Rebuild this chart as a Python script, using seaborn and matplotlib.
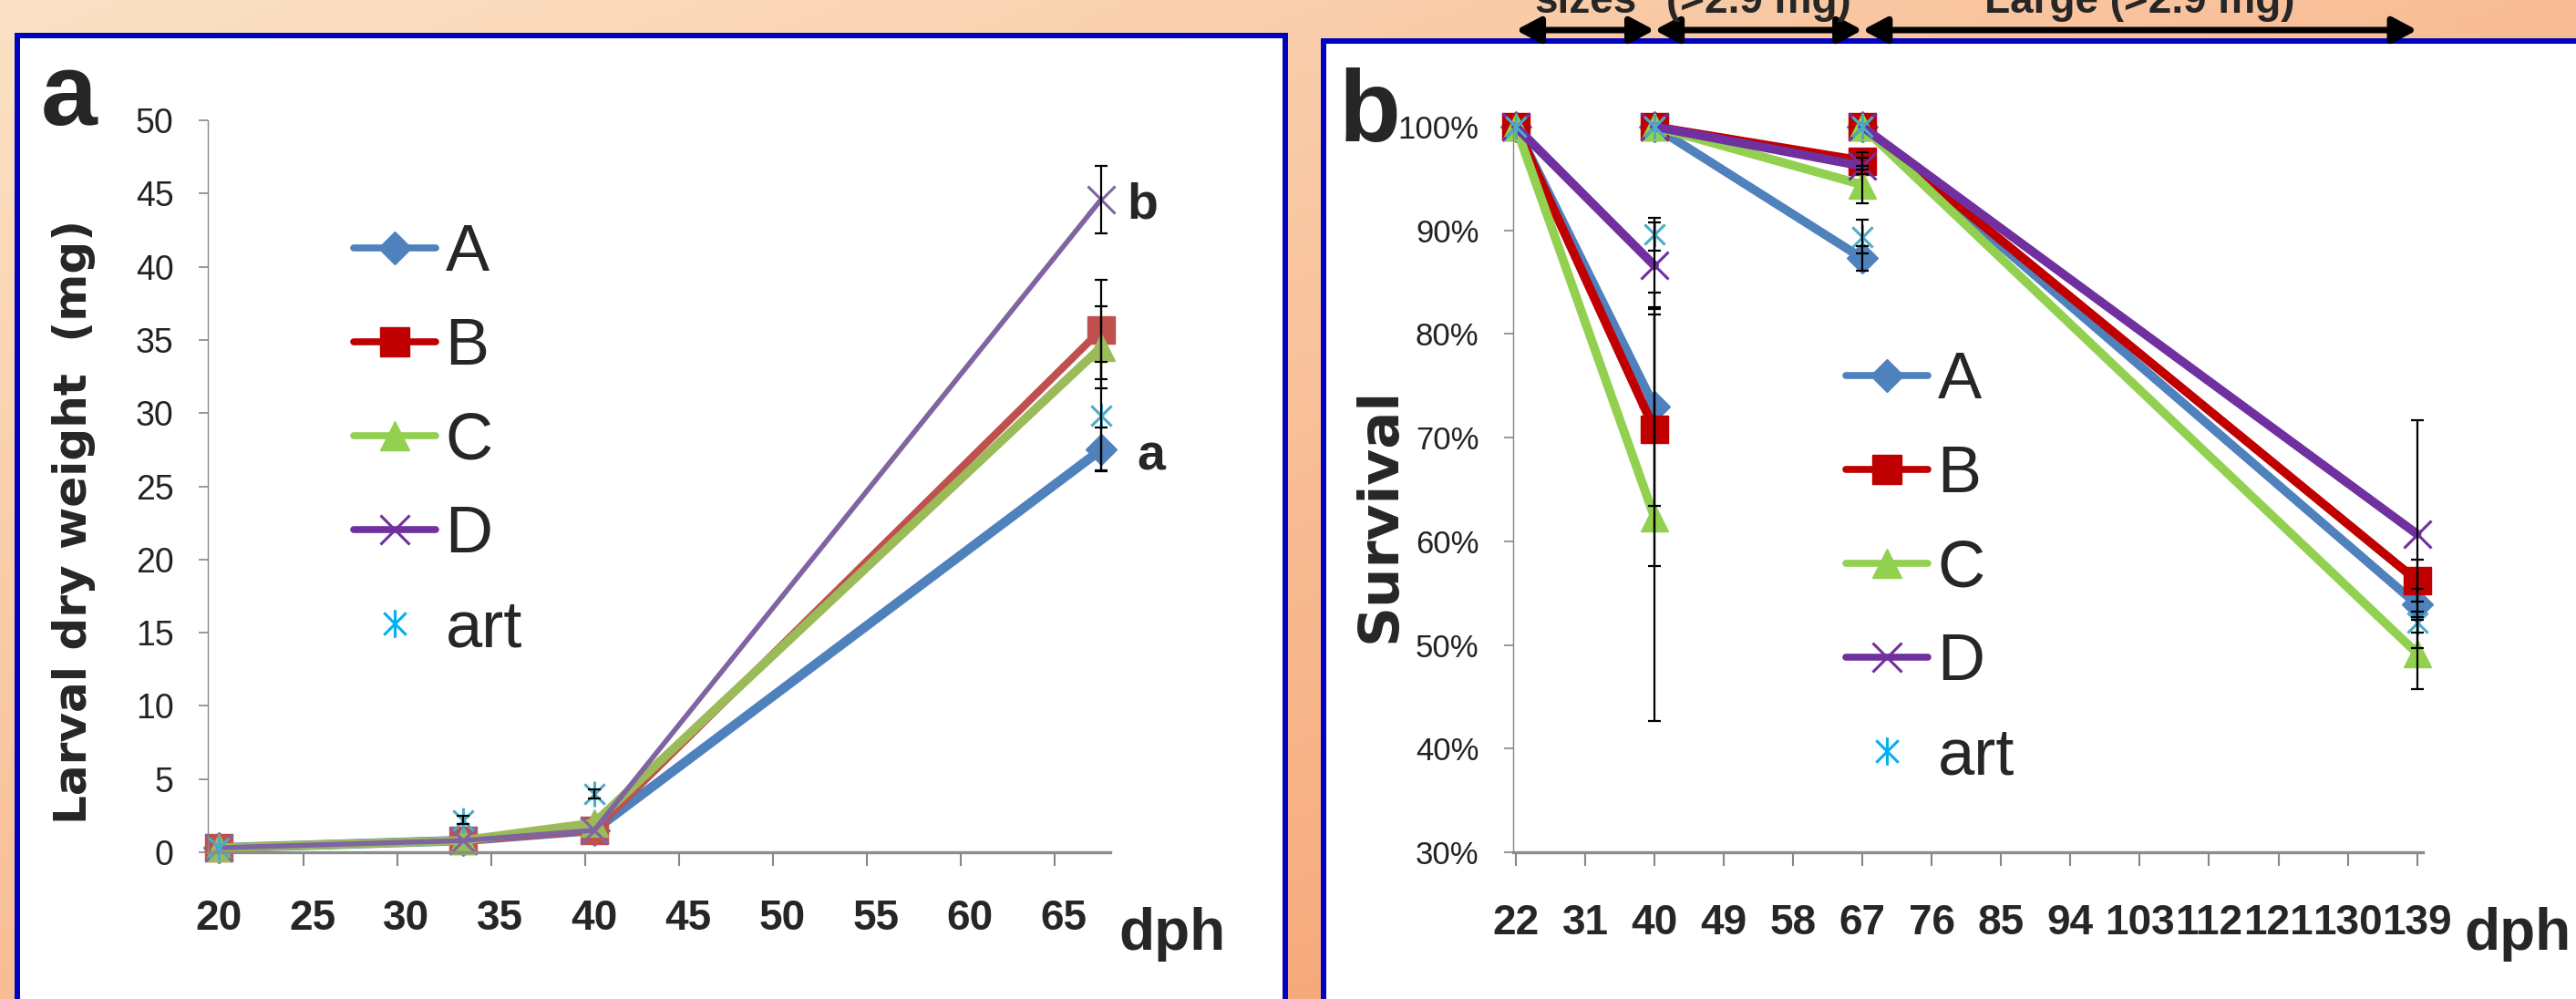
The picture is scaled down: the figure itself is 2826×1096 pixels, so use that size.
import matplotlib
matplotlib.use("Agg")
import matplotlib.pyplot as plt
import matplotlib.transforms as mtransforms
from matplotlib.lines import Line2D
from matplotlib.patches import Rectangle
from matplotlib.path import Path
import numpy as np
import pandas as pd
import seaborn as sns

# ---------------- data ----------------
groups = ["A", "B", "C", "D", "art"]

# panel a: larval dry weight (mg)
dph_a = [20, 33, 40, 67]
weight_A = [0.3, 0.8, 1.5, 27.5]
weight_B = [0.3, 0.8, 1.5, 35.7]
weight_C = [0.3, 0.8, 2.0, 34.5]
weight_D = [0.3, 0.8, 1.5, 44.6]
weight_art = [0.3, 2.2, 4.0, 29.8]
werr_A = [0, 0, 0, 1.5]
werr_B = [0, 0, 0, 3.4]
werr_C = [0, 0, 0, 2.8]
werr_D = [0, 0, 0, 2.3]
werr_art = [0, 0.3, 0.3, 3.7]
xticks_a = [20, 25, 30, 35, 40, 45, 50, 55, 60, 65]
yticks_a = [0, 5, 10, 15, 20, 25, 30, 35, 40, 45, 50]

# panel b: survival (%), each stage restarts at 100 %
dph_b = [22, 40, 40, 67, 67, 139]
stage_b = [1, 1, 2, 2, 3, 3]
surv_A = [100, 73.0, 100, 87.3, 100, 53.9]
surv_B = [100, 70.8, 100, 96.7, 100, 56.2]
surv_C = [100, 62.3, 100, 94.4, 100, 49.2]
surv_D = [100, 86.6, 100, 96.2, 100, 60.7]
surv_art = [100, 89.6, 100, 89.4, 100, 52.2]
serr_A = [0, 9.6, 0, 1.2, 0, 1.5]
serr_B = [0, 13.2, 0, 0.8, 0, 2.0]
serr_C = [0, 19.6, 0, 1.8, 0, 3.5]
serr_D = [0, 4.2, 0, 0.8, 0, 11.0]
serr_art = [0, 1.6, 0, 1.6, 0, 1.0]
xticks_b = [22, 31, 40, 49, 58, 67, 76, 85, 94, 103, 112, 121, 130, 139]
yticks_b = [30, 40, 50, 60, 70, 80, 90, 100]

stage_arrows = [(22, 40), (40, 67), (67, 139)]
stage_texts = ["sizes", "(>2.9 mg)", "Large (>2.9 mg)"]

# ---------------- style ----------------
W, H = 2826, 1096
REG = ["Liberation Sans", "DejaVu Sans"]
BOLDY = ["DejaVu Sans"]

STAR = Path([(0, -1), (0, 1), (-0.8, -0.8), (0.8, 0.8), (-0.8, 0.8), (0.8, -0.8)],
            [Path.MOVETO, Path.LINETO] * 3)
markers = {"A": "D", "B": "s", "C": "^", "D": "x", "art": STAR}
msize = {"A": 17, "B": 21, "C": 21, "D": 21, "art": 20}
colors_a = {"A": "#4F81BD", "B": "#C0504D", "C": "#9BBB59", "D": "#8064A2", "art": "#4BACC6"}
colors_b = {"A": "#4F81BD", "B": "#C00000", "C": "#92D050", "D": "#7030A0", "art": "#4BACC6"}
colors_leg = {"A": "#4F81BD", "B": "#C00000", "C": "#92D050", "D": "#7030A0", "art": "#00B0F0"}
lw_a = {"A": 7.5, "B": 6, "C": 7, "D": 4, "art": 0}
lw_b = {"A": 7, "B": 7, "C": 7, "D": 7, "art": 0}

sns.set_style("ticks")
plt.rcParams["font.family"] = REG


def fx(px):
    return px / W


def fy(py):
    return 1 - py / H


def rect(l, t, r, b):
    return [fx(l), fy(b), (r - l) / W, (b - t) / H]


fig = plt.figure(figsize=(W / 100, H / 100), dpi=100)

# orange gradient background
bg = fig.add_axes([0, 0, 1, 1], zorder=-10)
gx, gy = np.meshgrid(np.linspace(0, 1, 300), np.linspace(0, 1, 120))
t = (gx + gy) / 2
c0 = np.array([251, 226, 198]) / 255
c1 = np.array([245, 152, 100]) / 255
bg.imshow(c0 + (c1 - c0) * t[..., None], aspect="auto", extent=[0, 1, 0, 1])
bg.axis("off")

# white panels with blue border
for l, tp, r in [(19, 39, 1410), (1452, 45, 2860)]:
    fig.add_artist(Rectangle((fx(l), fy(H + 40)), (r - l) / W, (H + 40 - tp) / H,
                             transform=fig.transFigure, facecolor="white",
                             edgecolor="#0000BF", lw=4.3, zorder=-5))

ax_a = fig.add_axes(rect(228, 132, 1218, 935))
ax_b = fig.add_axes(rect(1660, 139, 2658, 935))
for ax in (ax_a, ax_b):
    ax.set_facecolor("none")

df_a = pd.DataFrame({
    "dph": dph_a * 5,
    "value": weight_A + weight_B + weight_C + weight_D + weight_art,
    "err": werr_A + werr_B + werr_C + werr_D + werr_art,
    "group": np.repeat(groups, len(dph_a)),
})
df_b = pd.DataFrame({
    "dph": dph_b * 5,
    "stage": stage_b * 5,
    "value": surv_A + surv_B + surv_C + surv_D + surv_art,
    "err": serr_A + serr_B + serr_C + serr_D + serr_art,
    "group": np.repeat(groups, len(dph_b)),
})


def draw(ax, df, cols, lws, units=None):
    for g in groups:
        sub = df[df["group"] == g]
        c = cols[g]
        filled = g in ("A", "B", "C")
        sns.lineplot(data=sub, x="dph", y="value", units=units, estimator=None,
                     ax=ax, color=c, lw=lws[g], ls="-" if lws[g] else "none",
                     marker=markers[g], ms=msize[g], mfc=c if filled else "none",
                     mec=c, mew=1 if filled else 2.2, clip_on=False,
                     legend=False, sort=True)
    for g in groups:
        sub = df[(df["group"] == g) & (df["err"] > 0)]
        ax.errorbar(sub["dph"], sub["value"], yerr=sub["err"], fmt="none",
                    ecolor="black", elinewidth=1.6, capsize=5, capthick=1.6,
                    zorder=5, clip_on=False)


draw(ax_a, df_a, colors_a, lw_a)
draw(ax_b, df_b, colors_b, lw_b, units="stage")

# axes styling
ax_a.set_xlim(19.42, 67.48)
ax_a.set_ylim(0, 50)
ax_b.set_xlim(21.65, 139.75)
ax_b.set_ylim(30, 100)

ax_a.set_xticks(xticks_a, labels=[str(v) for v in xticks_a], fontsize=33,
                fontweight="bold", family=REG)
ax_a.set_xticks([v - 0.5 for v in xticks_a[1:]], minor=True)
ax_a.tick_params(axis="x", which="major", length=0, pad=37)
ax_a.tick_params(axis="x", which="minor", length=11, width=1.5, color="#868686")
ax_a.set_yticks(yticks_a, labels=[str(v) for v in yticks_a], fontsize=27,
                family=REG, color="#222222")

ax_b.set_xticks(xticks_b, labels=[str(v) for v in xticks_b], fontsize=33,
                fontweight="bold", family=REG)
ax_b.tick_params(axis="x", length=11, width=1.5, color="#868686", pad=29)
ax_b.set_yticks(yticks_b, labels=[f"{v}%" for v in yticks_b], fontsize=25,
                family=REG, color="#222222")

for ax in (ax_a, ax_b):
    ax.tick_params(axis="y", length=7, width=1.2, color="#868686", pad=20)
    ax.spines[["top", "right"]].set_visible(False)
    ax.spines["left"].set_color("#868686")
    ax.spines["left"].set_linewidth(1.0)
    ax.spines["bottom"].set_color("#8C8C8C")
    ax.spines["bottom"].set_linewidth(2.4)
    ax.set_xlabel("")
    ax.set_ylabel("")

# significance letters
ax_a.text(68.35, 43.3, "b", fontsize=40, fontweight="bold", va="baseline", ha="left")
ax_a.text(68.9, 26.1, "a", fontsize=40, fontweight="bold", va="baseline", ha="left")


# legends
def handles():
    hs = []
    for g in groups:
        c = colors_leg[g]
        filled = g in ("A", "B", "C")
        hs.append(Line2D([], [], color=c, lw=5.5 if g != "art" else 0,
                         ls="-" if g != "art" else "none", marker=markers[g],
                         ms=msize[g] * 1.1, mfc=c if filled else "none", mec=c,
                         mew=1 if filled else 2.2))
    return hs


for ax, (lx, ly) in [(ax_a, (388, 245)), (ax_b, (2025, 385))]:
    ax.legend(handles(), groups, loc="upper left", bbox_to_anchor=(fx(lx), fy(ly)),
              bbox_transform=fig.transFigure, frameon=False, borderpad=0,
              borderaxespad=0, handlelength=1.24, handletextpad=0.15,
              labelspacing=0.5, numpoints=1, prop={"family": REG, "size": 52})

# labels
fig.text(fx(45), fy(137), "a", fontsize=80, fontweight="bold", va="baseline", ha="left")
fig.text(fx(1469), fy(155), "b", fontsize=80, fontweight="bold", va="baseline", ha="left")
fig.text(fx(81), fy(573), "Larval dry weight  (mg)", rotation=90, fontsize=36,
         fontweight="bold", family=BOLDY, ha="center", va="center")
fig.text(fx(1514), fy(565), "Survival", rotation=90, fontsize=44,
         fontweight="bold", family=BOLDY, ha="center", va="center")
for x0 in (1227, 2703):
    fig.text(fx(x0), fy(1042), "dph", fontsize=46, fontweight="bold",
             va="baseline", ha="left")

# stage arrows above panel b
blend = mtransforms.blended_transform_factory(ax_b.transData, fig.transFigure)
for (x0, x1), label in zip(stage_arrows, stage_texts):
    ax_b.annotate("", xy=(x1, fy(33)), xytext=(x0, fy(33)), xycoords=blend,
                  textcoords=blend, annotation_clip=False,
                  arrowprops=dict(arrowstyle="<|-|>,head_length=1.6,head_width=0.85",
                                  mutation_scale=10, lw=5, color="black",
                                  shrinkA=0, shrinkB=0))
    ax_b.text((x0 + x1) / 2, fy(14), label, transform=blend, ha="center",
              va="baseline", fontsize=33, fontweight="bold", family=REG,
              clip_on=False)

fig.savefig("out.png", dpi=100)
